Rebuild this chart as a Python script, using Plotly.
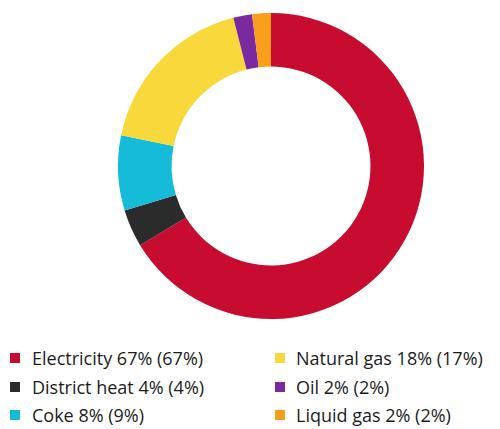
import plotly.graph_objects as go

# Energy use by source, share of total (previous year in brackets)
sources = ["Electricity", "District heat", "Coke", "Natural gas", "Oil", "Liquid gas"]
share_now = [67, 4, 8, 18, 2, 2]
share_prev = [67, 4, 9, 17, 2, 2]
colors = ["#c70c2f", "#2b2b2b", "#15bcd9", "#f9d83b", "#7a29a1", "#f99e1b"]

# legend layout: two columns of three entries
legend_order = [0, 1, 2, 3, 4, 5]
col_of = [0, 0, 0, 1, 1, 1]
row_of = [0, 1, 2, 0, 1, 2]

W, H = 500, 429

fig = go.Figure(
    go.Pie(
        labels=sources,
        values=share_now,
        sort=False,
        direction="clockwise",
        rotation=0,
        hole=0.65,
        textinfo="none",
        marker=dict(colors=colors, line=dict(width=0)),
        showlegend=False,
        domain=dict(x=[(271 - 153) / W, (271 + 153) / W],
                    y=[(H - 166 - 153) / H, (H - 166 + 153) / H]),
    )
)

square_x = [10, 275]
text_x = [30, 294]
row_y = [358, 387, 415]
sq = 10

shapes = []
annotations = []
for i in legend_order:
    c, r = col_of[i], row_of[i]
    x0 = square_x[c]
    yc = row_y[r]
    shapes.append(dict(
        type="rect", xref="paper", yref="paper",
        x0=x0 / W, x1=(x0 + sq) / W,
        y0=(H - yc - sq / 2) / H, y1=(H - yc + sq / 2) / H,
        fillcolor=colors[i], line=dict(width=0),
    ))
    annotations.append(dict(
        xref="paper", yref="paper",
        x=text_x[c] / W, y=(H - yc) / H,
        xanchor="left", yanchor="middle",
        text=f"{sources[i]} {share_now[i]}% ({share_prev[i]}%)",
        showarrow=False,
        font=dict(family="Open Sans, sans-serif", size=18, color="#1c1c1c"),
    ))

fig.update_layout(
    width=W, height=H,
    margin=dict(l=0, r=0, t=0, b=0),
    paper_bgcolor="white",
    plot_bgcolor="white",
    shapes=shapes,
    annotations=annotations,
)

fig.write_html("out.html")
